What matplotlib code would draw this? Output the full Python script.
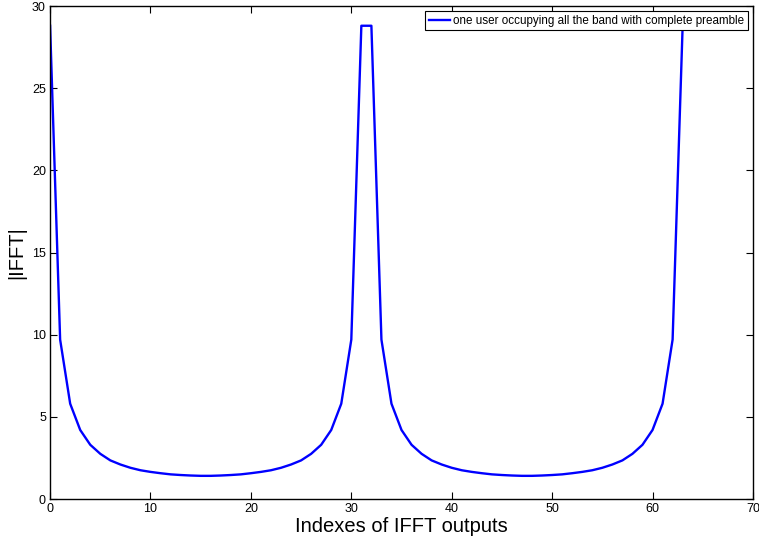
import matplotlib
matplotlib.use("Agg")
import matplotlib.pyplot as plt

plt.rcParams["font.family"] = ["Liberation Sans", "DejaVu Sans"]

# |IFFT| of each output index
index = list(range(64))
half = [9.7, 5.8, 4.2, 3.3, 2.75, 2.35, 2.1, 1.9, 1.75, 1.65, 1.57, 1.5, 1.46, 1.43, 1.41,
        1.41, 1.43, 1.46, 1.5, 1.57, 1.65, 1.75, 1.9, 2.1, 2.35, 2.75, 3.3, 4.2, 5.8, 9.7]
magnitude = [28.8] + half + [28.8, 28.8] + half + [28.8]

fig = plt.figure(figsize=(7.59, 5.48), dpi=100)
ax = fig.add_axes([0.066, 0.0894, 0.926, 0.8996])

ax.plot(index, magnitude, color="#0000ff", lw=1.7,
        label="one user occupying all the band with complete preamble")

ax.set_xlim(0, 70)
ax.set_ylim(0, 30)
ax.set_xticks(range(0, 71, 10))
ax.set_yticks(range(0, 31, 5))
ax.tick_params(direction="in", top=True, right=True, labelsize=9, length=5, width=0.8, pad=3)
for s in ax.spines.values():
    s.set_linewidth(1.0)

ax.set_xlabel("Indexes of IFFT outputs", fontsize=14.5, labelpad=1)
ax.set_ylabel("|IFFT|", fontsize=14.5, labelpad=4)

leg = ax.legend(loc="upper right", fontsize=8.4, fancybox=False, edgecolor="black",
                framealpha=1, handlelength=1.8, borderpad=0.3, handletextpad=0.3,
                borderaxespad=0.45)
leg.get_frame().set_linewidth(0.8)

fig.savefig("out.png", dpi=100)
